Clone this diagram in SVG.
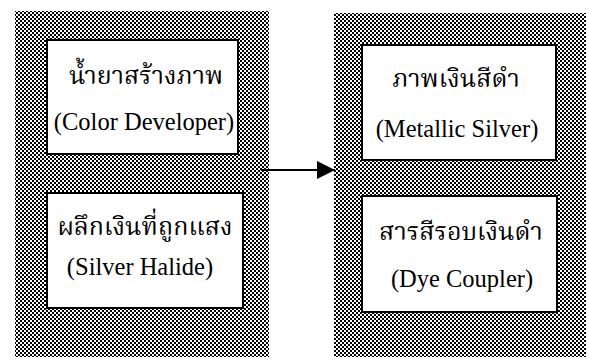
<svg xmlns="http://www.w3.org/2000/svg" width="589" height="361" viewBox="0 0 589 361">
<defs>
<pattern id="ht" width="4" height="4" patternUnits="userSpaceOnUse">
<rect width="4" height="4" fill="#ffffff"/>
<rect x="0" y="0" width="2" height="2" fill="#000000"/>
<rect x="2" y="2" width="2" height="2" fill="#000000"/>
</pattern>
<marker id="arr" viewBox="0 0 18 18" refX="18" refY="9" markerWidth="18" markerHeight="18" markerUnits="userSpaceOnUse" orient="auto">
<path d="M0,0 L18,9 L0,18 Z" fill="#000"/>
</marker>
<style>
.panel{fill:url(#ht);}
.box{fill:#fff;stroke:#000;stroke-width:2;}
.th{font-family:"Noto Serif Thai","Noto Sans Thai","Loma","Garuda","Liberation Serif",serif;font-size:25px;text-anchor:middle;fill:#000;}
.en{font-family:"Liberation Serif","Times New Roman",serif;font-size:24.5px;text-anchor:middle;fill:#000;}
</style>
</defs>
<rect width="589" height="361" fill="#fff"/>
<g id="panel-left"><rect class="panel" x="15" y="11" width="254" height="346"/></g>
<g id="panel-right"><rect class="panel" x="334" y="13" width="252" height="344"/></g>
<g id="connectors">
<line x1="261" y1="170" x2="335" y2="170" stroke="#000" stroke-width="2" marker-end="url(#arr)"/>
</g>
<g id="node-color-developer">
<rect class="box" x="47" y="40" width="191" height="114"/>
<text class="th" x="146" y="84">น้ำยาสร้างภาพ</text>
<text class="en" x="144" y="130">(Color Developer)</text>
</g>
<g id="node-silver-halide">
<rect class="box" x="47" y="193" width="196" height="115"/>
<text class="th" x="145" y="235">ผลึกเงินที่ถูกแสง</text>
<text class="en" x="140" y="275">(Silver Halide)</text>
</g>
<g id="node-metallic-silver">
<rect class="box" x="362" y="45" width="194" height="115"/>
<text class="th" x="456" y="87">ภาพเงินสีดำ</text>
<text class="en" x="457" y="137">(Metallic Silver)</text>
</g>
<g id="node-dye-coupler">
<rect class="box" x="362" y="196" width="195" height="116"/>
<text class="th" x="461" y="240">สารสีรอบเงินดำ</text>
<text class="en" x="462" y="287">(Dye Coupler)</text>
</g>
</svg>
